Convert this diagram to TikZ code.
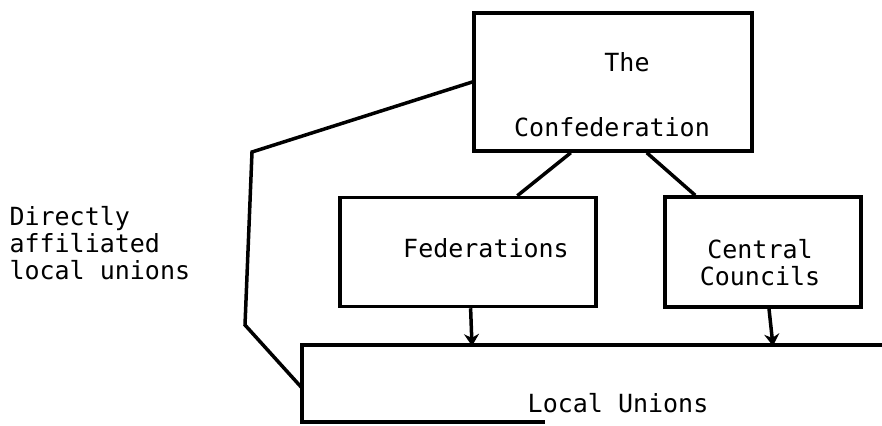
\documentclass[tikz,border=0pt]{standalone}
\usepackage{fontspec}
\usepackage{tikz}
\usetikzlibrary{arrows.meta,calc}
\newfontfamily\typewr{DejaVu Sans Mono}

\tikzset{
    orgbox/.style={draw, line width=3.5pt, inner sep=0pt},
    link/.style={line width=3.5pt},
    downarrow/.style={line width=3.5pt, -{Stealth[length=12pt,width=15pt]}},
    label/.style={font=\typewr\fontsize{25}{27}\selectfont}
}

\begin{document}
\begin{tikzpicture}[x=1pt,y=-1pt]
    \useasboundingbox (0,0) rectangle (882,425);
    % the three boxes
    \node[orgbox, minimum width=278pt, minimum height=138pt] (conf) at (613,82) {};
    \node[orgbox, minimum width=256pt, minimum height=109pt] (fed) at (468,252) {};
    \node[orgbox, minimum width=196pt, minimum height=110pt] (cc) at (763,252) {};
    \node[label] (the) at (627,62) {The};
    \node[label] (confname) at (612,127) {Confederation};
    \node[label] (fedname) at (486,248) {Federations};
    \node[label, align=center] (ccname) at (760,263) {Central\\Councils};
    % local unions, runs off the page
    \coordinate (lutr) at (882,345);
    \coordinate (lutl) at (302,345);
    \coordinate (lubl) at (302,422);
    \coordinate (lubr) at (545,422);
    \draw[link] (lutr) -- (lutl) -- (lubl) -- (lubr);
    \node[label] (luname) at (618,403) {Local Unions};
    % connectors
    \draw[link] ($(conf.south west)!0.35!(conf.south east)$) -- ($(fed.north west)!0.69!(fed.north east)$);
    \draw[link] ($(conf.south west)!0.62!(conf.south east)$) -- ($(cc.north west)!0.16!(cc.north east)$);
    \coordinate (bend1) at (252,152);
    \coordinate (bend2) at (245,325);
    \coordinate (luleft) at (302,388);
    \draw[link] (conf.west) -- (bend1) -- (bend2) -- (luleft);
    \coordinate (fedin) at (472,346);
    \coordinate (ccin) at (773,346);
    \draw[downarrow] ($(fed.south west)!0.51!(fed.south east)$) -- (fedin);
    \draw[downarrow] ($(cc.south west)!0.53!(cc.south east)$) -- (ccin);
    % side text
    \node[label, align=left, anchor=west] (direct) at (6,243) {Directly\\affiliated\\local unions};
\end{tikzpicture}
\end{document}
